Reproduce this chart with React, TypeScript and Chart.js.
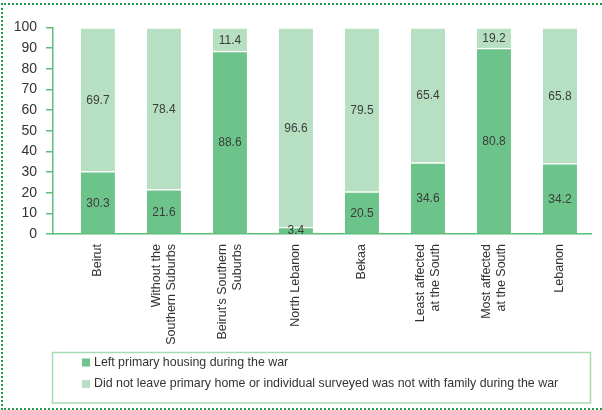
import React, { useEffect, useRef } from "react";
import { Chart, registerables } from "chart.js";

Chart.register(...registerables);

const categories: (string | string[])[] = [
  "Beirut",
  ["Without the", "Southern Suburbs"],
  ["Beirut's Southern", "Suburbs"],
  "North Lebanon",
  "Bekaa",
  ["Least affected", "at the South"],
  ["Most affected", "at the South"],
  "Lebanon",
];

// printed values
const leftLabels = ["30.3", "21.6", "88.6", "3.4", "20.5", "34.6", "80.8", "34.2"];
const stayedLabels = ["69.7", "78.4", "11.4", "96.6", "79.5", "65.4", "19.2", "65.8"];

// bar heights as drawn in the picture
const leftHousing = [30.3, 21.6, 88.6, 3.4, 20.5, 34.6, 90.0, 34.2];
const didNotLeave = [69.7, 78.4, 11.4, 96.6, 79.5, 65.4, 10.0, 65.8];

const yTicks = [0, 10, 20, 30, 40, 50, 60, 70, 80, 90, 100];

const seriesNames = [
  "Left primary housing during the war",
  "Did not leave primary home or individual surveyed was not with family during the war",
];

const DARK = "#6dc48a";
const LIGHT = "#b6e0c1";
const AXIS = "#5cbf79";
const TEXT = "#333333";
const FONT = "'Liberation Sans', Arial, Helvetica, sans-serif";

const valueLabelPlugin = {
  id: "valueLabels",
  afterDatasetsDraw(chart: any) {
    const ctx = chart.ctx;
    const labelSets = [leftLabels, stayedLabels];
    ctx.save();
    ctx.font = `12px ${FONT}`;
    ctx.fillStyle = "#3c3c3c";
    ctx.textAlign = "center";
    ctx.textBaseline = "middle";
    chart.data.datasets.forEach((ds: any, di: number) => {
      const meta = chart.getDatasetMeta(di);
      meta.data.forEach((bar: any, i: number) => {
        const y = (bar.y + bar.base) / 2;
        ctx.fillText(labelSets[di][i], bar.x, y + 1);
      });
    });
    ctx.restore();
  },
};

// rotated category labels, multi-line labels centred on their bar
const categoryLabelPlugin = {
  id: "categoryLabels",
  afterDraw(chart: any) {
    const ctx = chart.ctx;
    const xs = chart.scales.x;
    const lineH = 14.5;
    ctx.save();
    ctx.font = `12.5px ${FONT}`;
    ctx.fillStyle = TEXT;
    ctx.textAlign = "right";
    ctx.textBaseline = "middle";
    categories.forEach((lab, i) => {
      const lines = Array.isArray(lab) ? lab : [lab];
      const px = xs.getPixelForValue(i);
      const top = xs.top + 10;
      lines.forEach((line, j) => {
        const off = (j - (lines.length - 1) / 2) * lineH;
        ctx.save();
        ctx.translate(px + off, top);
        ctx.rotate(-Math.PI / 2);
        ctx.fillText(line, 0, 0);
        ctx.restore();
      });
    });
    ctx.restore();
  },
};

const boxLegendPlugin = {
  id: "boxLegend",
  afterDraw(chart: any) {
    const ctx = chart.ctx;
    ctx.save();
    ctx.strokeStyle = "#a6dbb0";
    ctx.lineWidth = 1.5;
    ctx.strokeRect(52.5, 352.5, 538, 50.5);
    const colors = [DARK, LIGHT];
    const rows = [362.5, 384];
    ctx.font = `12.4px ${FONT}`;
    ctx.textBaseline = "middle";
    ctx.textAlign = "left";
    chart.data.datasets.forEach((ds: any, i: number) => {
      ctx.fillStyle = colors[i];
      ctx.fillRect(82, rows[i] - 4, 8, 8);
      ctx.fillStyle = TEXT;
      ctx.fillText(ds.label, 94, rows[i]);
    });
    ctx.restore();
  },
};

export default function App() {
  const ref = useRef<HTMLCanvasElement | null>(null);

  useEffect(() => {
    if (!ref.current) return;
    const chart = new Chart(ref.current, {
      type: "bar",
      data: {
        datasets: [
          {
            label: seriesNames[0],
            data: leftHousing.map((v, i) => ({ x: i, y: v })),
            backgroundColor: DARK,
            borderColor: "#ffffff",
            borderWidth: { top: 1.5, left: 0, right: 0, bottom: 0 },
            borderSkipped: "start",
            barThickness: 34,
          },
          {
            label: seriesNames[1],
            data: didNotLeave.map((v, i) => ({ x: i, y: v })),
            backgroundColor: LIGHT,
            borderColor: "#ffffff",
            borderWidth: { top: 1.5, left: 0, right: 0, bottom: 0 },
            borderSkipped: "start",
            barThickness: 34,
          },
        ],
      },
      options: {
        animation: false,
        responsive: false,
        devicePixelRatio: 1,
        layout: { padding: { top: 27.5, right: 11, bottom: 0, left: 0 } },
        plugins: {
          legend: { display: false },
          tooltip: { enabled: false },
        },
        scales: {
          x: {
            type: "linear",
            stacked: true,
            offset: false,
            min: -0.68,
            max: 7.47,
            afterBuildTicks: (s: any) => {
              s.ticks = categories.map((_, i) => ({ value: i }));
            },
            afterFit: (s: any) => {
              s.height = 176;
            },
            ticks: { display: false },
            grid: { display: false },
            border: { color: AXIS, width: 1.5 },
          },
          y: {
            stacked: true,
            min: 0,
            max: 100,
            afterBuildTicks: (s: any) => {
              s.ticks = yTicks.map((v) => ({ value: v }));
            },
            afterFit: (s: any) => {
              s.width = 53;
            },
            ticks: {
              padding: 9,
              color: TEXT,
              font: { family: FONT, size: 14 },
            },
            grid: {
              drawOnChartArea: false,
              tickLength: 7,
              color: AXIS,
              lineWidth: 1.5,
            },
            border: { color: AXIS, width: 1.5 },
          },
        },
      },
      plugins: [valueLabelPlugin, categoryLabelPlugin, boxLegendPlugin],
    });
    return () => chart.destroy();
  }, []);

  return (
    <div
      style={{
        position: "fixed",
        left: 0,
        top: 0,
        width: 602,
        height: 410,
        background: "#ffffff",
      }}
    >
      <canvas
        ref={ref}
        width={602}
        height={410}
        style={{ display: "block", width: 602, height: 410 }}
      />
      <div
        style={{
          position: "absolute",
          left: 1,
          top: 3,
          width: 601,
          height: 407,
          boxSizing: "border-box",
          borderTop: "2px dotted #1f9d4b",
          borderLeft: "2px dotted #1f9d4b",
          borderBottom: "2px dotted #1f9d4b",
          pointerEvents: "none",
        }}
      />
    </div>
  );
}
